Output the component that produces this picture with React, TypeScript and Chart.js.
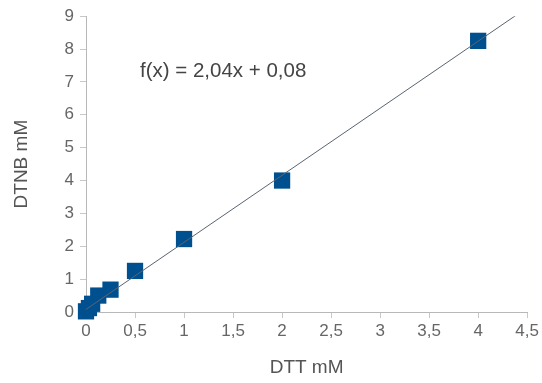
import React, { useEffect, useRef } from "react";
import { Chart, registerables } from "chart.js";

Chart.register(...registerables);

const dttValues = [0, 0.03, 0.0625, 0.125, 0.25, 0.5, 1, 2, 4];
const dtnbValues = [0.02, 0.12, 0.25, 0.5, 0.68, 1.25, 2.22, 4.0, 8.25];
const fitSlope = 2.04;
const fitIntercept = 0.08;
const fitX = [0, 4.5];
const xTicks = [0, 0.5, 1, 1.5, 2, 2.5, 3, 3.5, 4, 4.5];
const yTicks = [0, 1, 2, 3, 4, 5, 6, 7, 8, 9];
const equationLabel = "f(x) = 2,04x + 0,08";

const fmt = (v: number) => String(v).replace(".", ",");
const FAMILY = "'Liberation Sans', Arial, sans-serif";

export default function App() {
  const ref = useRef<HTMLCanvasElement | null>(null);
  useEffect(() => {
    document.body.style.margin = "0";
    const ctx = ref.current!.getContext("2d")!;
    const eqPlugin = {
      id: "eq",
      afterDatasetsDraw(chart: any) {
        const c = chart.ctx;
        c.save();
        c.font = "20.5px " + FAMILY;
        c.fillStyle = "#444";
        c.textBaseline = "middle";
        c.textAlign = "left";
        c.fillText(equationLabel, 140, 71);
        c.restore();
      },
    };
    const chart = new Chart(ctx, {
      type: "scatter",
      data: {
        datasets: [
          {
            type: "line",
            data: fitX.map((x) => ({ x, y: fitSlope * x + fitIntercept })),
            borderColor: "#5a6470",
            borderWidth: 1,
            pointRadius: 0,
            fill: false,
          } as any,
          {
            data: dttValues.map((x, i) => ({ x, y: dtnbValues[i] })),
            backgroundColor: "#00508f",
            borderColor: "#00508f",
            pointStyle: "rect",
            pointRadius: 11.5,
            borderWidth: 0,
            clip: false,
          } as any,
        ],
      },
      plugins: [eqPlugin],
      options: {
        animation: false,
        responsive: false,
        maintainAspectRatio: false,
        layout: { padding: { left: 0, top: 15, right: 14, bottom: 0 } },
        plugins: { legend: { display: false }, tooltip: { enabled: false } },
        scales: {
          x: {
            type: "linear",
            min: 0,
            max: 4.5,
            afterBuildTicks: (s: any) => {
              s.ticks = xTicks.map((v) => ({ value: v }));
            },
            afterFit: (s: any) => {
              s.height = 71;
            },
            grid: {
              display: true,
              drawOnChartArea: false,
              drawTicks: true,
              tickLength: 6,
              color: "#c8c8c8",
            },
            border: { color: "#b8b8b8", width: 1 },
            ticks: {
              color: "#666",
              font: { size: 17, family: FAMILY },
              padding: 3,
              maxRotation: 0,
              autoSkip: false,
              callback: (v: any) => fmt(v),
            },
            title: {
              display: true,
              text: "DTT mM",
              color: "#555",
              font: { size: 19, family: FAMILY },
              padding: { top: 6 },
            },
          },
          y: {
            type: "linear",
            min: 0,
            max: 9,
            afterBuildTicks: (s: any) => {
              s.ticks = yTicks.map((v) => ({ value: v }));
            },
            afterFit: (s: any) => {
              s.width = 86;
            },
            grid: {
              display: true,
              drawOnChartArea: false,
              drawTicks: true,
              tickLength: 6,
              color: "#c8c8c8",
            },
            border: { color: "#b8b8b8", width: 1 },
            ticks: {
              color: "#666",
              font: { size: 17, family: FAMILY },
              padding: 6,
              callback: (v: any) => fmt(v),
            },
            title: {
              display: true,
              text: "DTNB mM",
              color: "#555",
              font: { size: 19, family: FAMILY },
              padding: { top: 10, bottom: 0 },
            },
          },
        },
      } as any,
    });
    return () => chart.destroy();
  }, []);
  return (
    <div style={{ position: "absolute", left: 0, top: 0, width: 542, height: 383, background: "#fff" }}>
      <canvas ref={ref} width={542} height={383} style={{ width: 542, height: 383 }} />
    </div>
  );
}
